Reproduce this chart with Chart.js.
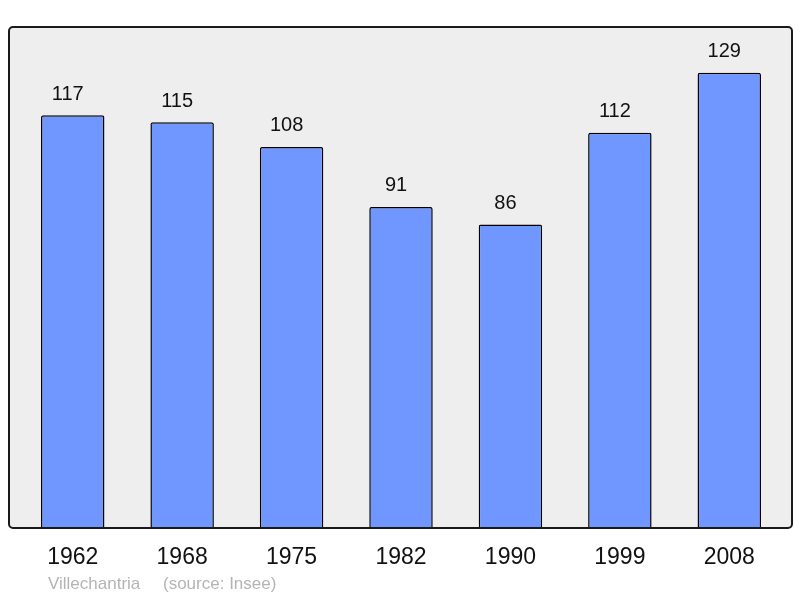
<!DOCTYPE html>
<html>
<head>
<meta charset="utf-8">
<script src="https://cdn.jsdelivr.net/npm/chart.js@4"></script>
<style>
  html, body { margin: 0; padding: 0; background: #fff; }
  #wrap { width: 800px; height: 598px; }
</style>
</head>
<body>
<div id="wrap"><canvas id="popChart" width="800" height="598"></canvas></div>
<script>
var years = ['1962', '1968', '1975', '1982', '1990', '1999', '2008'];
var population = [117, 115, 108, 91, 86, 112, 129];
var placeName = 'Villechantria';
var sourceNote = '(source: Insee)';

document.addEventListener('DOMContentLoaded', function () {
    var ctx = document.getElementById('popChart').getContext('2d');

    // grey frame behind the bars
    var framePlugin = {
        id: 'frame',
        beforeDatasetsDraw: function (chart) {
            var a = chart.chartArea;
            var c = chart.ctx;
            var x = a.left - 9, y = a.top, w = a.right - a.left + 17, h = a.bottom - a.top;
            c.save();
            c.beginPath();
            c.roundRect(x, y, w, h, 4);
            c.fillStyle = '#eeeeee';
            c.fill();
            c.restore();
        },
        afterDatasetsDraw: function (chart) {
            var a = chart.chartArea;
            var c = chart.ctx;
            var x = a.left - 9, y = a.top, w = a.right - a.left + 17, h = a.bottom - a.top;
            c.save();
            c.beginPath();
            c.roundRect(x, y, w, h, 4);
            c.lineWidth = 2;
            c.strokeStyle = '#1a1a1a';
            c.stroke();
            c.restore();
        }
    };

    // values above bars + footer
    var labelPlugin = {
        id: 'valueLabels',
        afterDraw: function (chart) {
            var c = chart.ctx;
            var meta = chart.getDatasetMeta(0);
            c.save();
            c.font = '20px "Liberation Sans", Arial, sans-serif';
            c.fillStyle = '#111';
            c.textAlign = 'center';
            c.textBaseline = 'middle';
            meta.data.forEach(function (bar, i) {
                // labels sit a little left of the bar centre in the original
                c.fillText(String(population[i]), bar.x - 5, bar.y - 21);
            });
            c.font = '17px "Liberation Sans", Arial, sans-serif';
            c.fillStyle = '#b4b4b4';
            c.textAlign = 'left';
            c.fillText(placeName, 48, 584);
            c.fillText(sourceNote, 163, 584);
            c.restore();
        }
    };

    new Chart(ctx, {
        type: 'bar',
        data: {
            labels: years,
            datasets: [{
                data: population,
                backgroundColor: '#7096ff',
                borderColor: '#000',
                borderWidth: 1.5,
                borderRadius: 2,
                barPercentage: 0.58,
                categoryPercentage: 1
            }]
        },
        options: {
            responsive: false,
            animation: false,
            layout: { padding: { left: 18, right: 16, top: 27, bottom: 0 } },
            plugins: {
                legend: { display: false },
                tooltip: { enabled: false }
            },
            scales: {
                x: {
                    grid: { display: false },
                    border: { display: false },
                    ticks: {
                        color: '#111',
                        padding: 8,
                        font: { family: '"Liberation Sans", Arial, sans-serif', size: 23 }
                    },
                    afterFit: function (scale) { scale.height = 70; }
                },
                y: {
                    display: false,
                    min: 0,
                    max: 142
                }
            }
        },
        plugins: [framePlugin, labelPlugin]
    });
});
</script>
</body>
</html>
